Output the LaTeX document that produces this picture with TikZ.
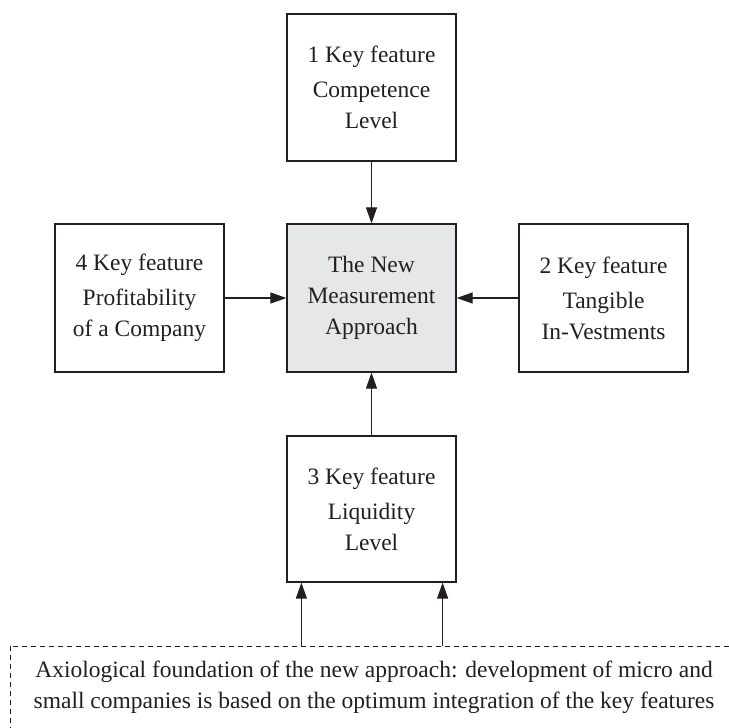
\documentclass[tikz,border=0pt]{standalone}
\usepackage{fontspec}
\setmainfont{Liberation Serif}
\usetikzlibrary{arrows.meta,calc}
\definecolor{ink}{RGB}{35,31,32}
\definecolor{corefill}{RGB}{230,231,233}

\begin{document}
\begin{tikzpicture}[
    x=1pt, y=-1pt,
    feat/.style={draw=ink, line width=1.2pt, minimum width=169pt, minimum height=147pt, align=center, text=ink, font=\fontsize{23.5}{31}\selectfont, inner sep=0pt},
    core/.style={feat, fill=corefill, minimum height=148pt},
    arr/.style={-{Triangle[length=16pt, width=11pt]}, draw=ink, line width=1.1pt},
    frame/.style={draw=ink, line width=1pt, dash pattern=on 5pt off 4pt}
]
\useasboundingbox (0,0) rectangle (729,728);

\node[core] (core) at (371.5,298) {The New\\Measurement\\Approach};
\node[feat] (comp) at (371.5,87.5) {1 Key feature\\[4pt]Competence\\Level};
\node[feat, minimum height=148pt] (tang) at (603.5,298) {2 Key feature\\[4pt]Tangible\\In-Vestments};
\node[feat, minimum height=146pt] (liq) at (371.5,509) {3 Key feature\\[4pt]Liquidity\\Level};
\node[feat, minimum height=148pt] (prof) at (139.5,298) {4 Key feature\\[4pt]Profitability\\of a Company};
\node[anchor=north, minimum width=726pt, inner ysep=15pt, align=center, text=ink, font=\fontsize{23.5}{31}\selectfont] (found) at (374,646)
    {Axiological foundation of the new approach: development of micro and\\small companies is based on the optimum integration of the key features};
\draw[frame] (found.north west) rectangle ([yshift=-40pt]found.south east);

\draw[arr] (comp) -- (core);
\draw[arr] (tang) -- (core);
\draw[arr] (liq) -- (core);
\draw[arr] (prof) -- (core);

\coordinate (f1) at ([xshift=15pt]liq.south west);
\coordinate (f2) at ([xshift=-14pt]liq.south east);
\draw[arr] (found.north -| f1) -- (f1);
\draw[arr] (found.north -| f2) -- (f2);
\end{tikzpicture}
\end{document}
